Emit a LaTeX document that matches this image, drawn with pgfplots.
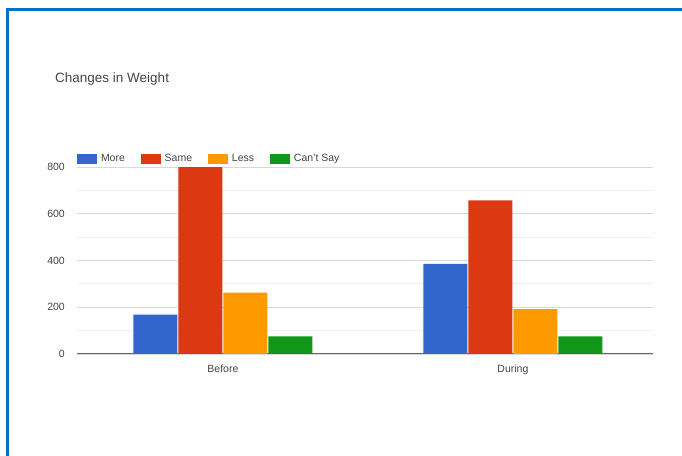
\documentclass[border=0pt]{standalone}
\usepackage{pgfplots}
\pgfplotsset{compat=1.18}
\usepackage{fontspec}
\setmainfont{Liberation Sans}
\definecolor{cMore}{HTML}{3366CC}
\definecolor{cSame}{HTML}{DC3912}
\definecolor{cLess}{HTML}{FF9900}
\definecolor{cCant}{HTML}{109618}
\definecolor{frame}{HTML}{0070C0}
\definecolor{txt}{HTML}{444444}
\begin{document}
\begin{tikzpicture}
\path[use as bounding box] (0,0) rectangle (682bp,456bp);
\fill[white] (0,0) rectangle (682bp,456bp);
\draw[frame, line width=2.5bp] (7.5bp,0) -- (7.5bp,446.5bp) -- (682bp,446.5bp);
\node[anchor=base west, inner sep=0pt, text=txt, font=\fontsize{13.5bp}{16bp}\selectfont] at (55bp,373bp) {Changes in Weight};
\begin{axis}[
  at={(77bp,102bp)}, anchor=south west,
  scale only axis, width=576bp, height=187bp,
  ybar=1bp, bar width=44bp,
  xmin=-0.503, xmax=1.483,
  ymin=0, ymax=800,
  xtick={0,1}, xticklabels={Before,During},
  ytick={0,200,400,600,800},
  minor ytick={100,300,500,700},
  ymajorgrids, yminorgrids,
  major grid style={draw=black!15, line width=0.8bp},
  minor grid style={draw=black!6, line width=0.8bp},
  axis x line*=bottom, axis y line*=left,
  x axis line style={draw=black!60, line width=1bp, -},
  y axis line style={draw=none},
  major tick length=0pt, minor tick length=0pt,
  tick label style={font=\fontsize{10.5bp}{12bp}\selectfont, text=txt},
  /pgf/number format/assume math mode=true,
  yticklabel style={anchor=east, inner sep=0pt, xshift=-12bp},
  xticklabel style={anchor=north, inner sep=0pt, yshift=-11bp},
  ytick style={draw=none}, xtick style={draw=none},
  legend style={at={(rel axis cs:0,1)}, anchor=west, yshift=8bp, xshift=0bp,
    draw=none, fill=none, inner sep=0pt, outer sep=0pt,
    font=\fontsize{10.5bp}{12bp}\selectfont, text=txt,
    legend columns=-1,
    /tikz/every odd column/.append style={column sep=4bp},
    /tikz/every even column/.append style={column sep=15.8bp},
    nodes={inner sep=0pt}},
  legend cell align=left,
  legend image code/.code={\fill[#1] (0bp,-5bp) rectangle (20bp,5bp);},
  clip=false,
]
\addplot[fill=cMore, draw=none] coordinates {(0,168) (1,386)};
\addplot[fill=cSame, draw=none] coordinates {(0,800) (1,657)};
\addplot[fill=cLess, draw=none] coordinates {(0,263) (1,192)};
\addplot[fill=cCant, draw=none] coordinates {(0,75) (1,75)};
\legend{More,Same,Less,Can't Say}
\end{axis}
\end{tikzpicture}
\end{document}
